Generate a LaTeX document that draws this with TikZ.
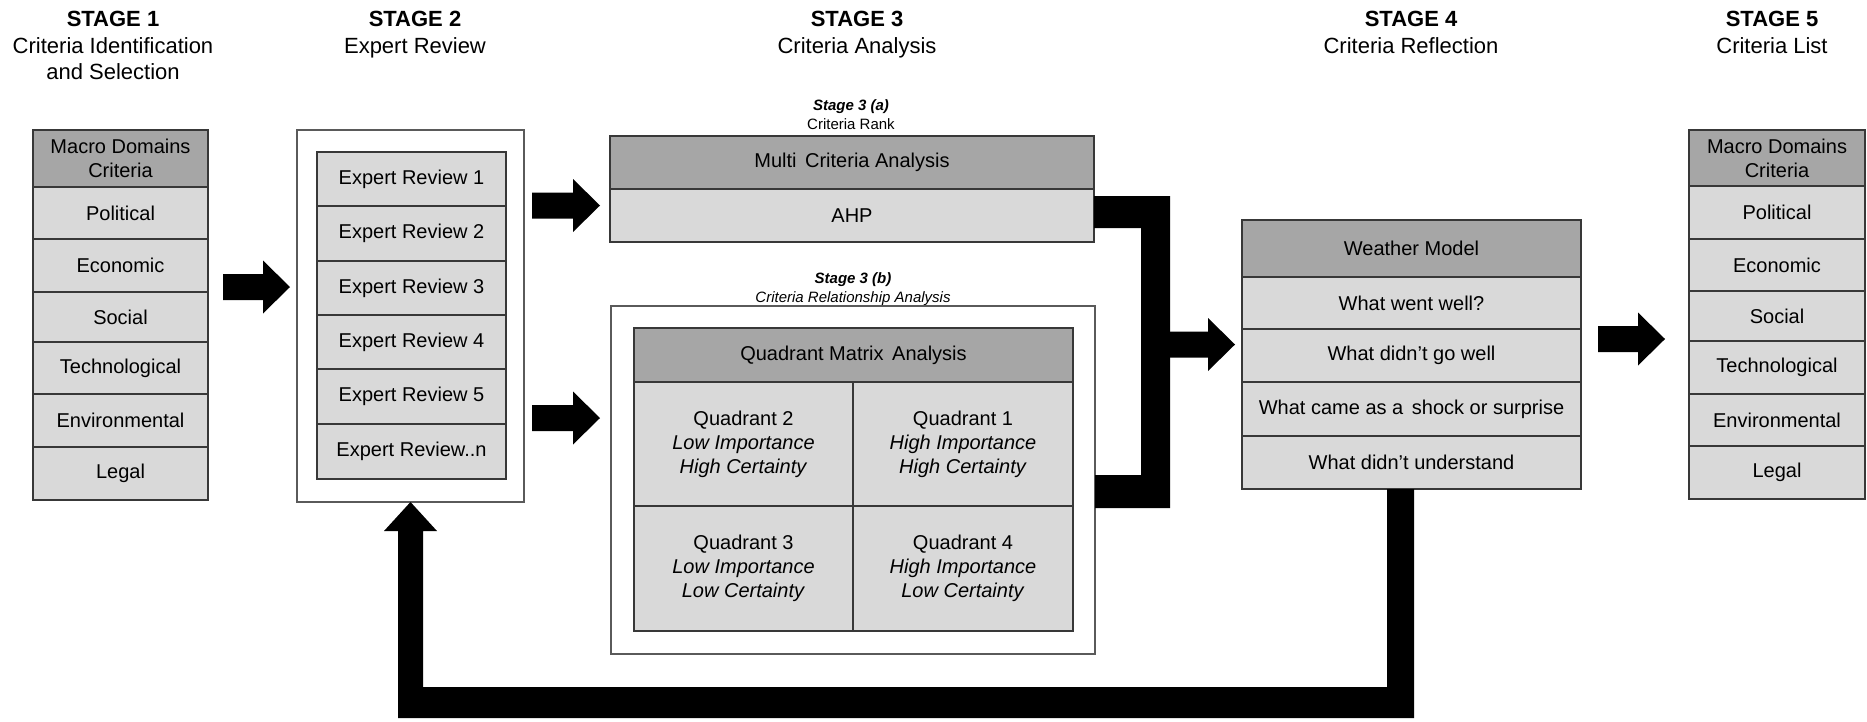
\documentclass[tikz,border=0pt]{standalone}
\usepackage{fontspec}
\setmainfont{Liberation Sans}
\usetikzlibrary{calc}
\definecolor{hdrg}{HTML}{A6A6A6}
\definecolor{rowg}{HTML}{D9D9D9}
\definecolor{bord}{HTML}{383838}
\definecolor{frameg}{HTML}{5A5A5A}
\newcommand{\mkcell}[7]{\node[#6, minimum width={#4pt-#2pt}, minimum height={#5pt-#3pt}] (#1) at ({(#2+#4)/2},{(#3+#5)/2}) {#7};}
\newcommand{\harrow}[2]{\fill[black] let \p1=(#1), \p2=(#2) in (\x1,\y1+13pt) -- (\x2-27pt,\y1+13pt) -- (\x2-27pt,\y1+26.5pt) -- (\x2,\y1) -- (\x2-27pt,\y1-26.5pt) -- (\x2-27pt,\y1-13pt) -- (\x1,\y1-13pt) -- cycle;}
\newcommand{\wsp}{\hspace{0.15em} }
\begin{document}
\begin{tikzpicture}[x=1pt,y=-1pt,
  hdr/.style={draw=bord, fill=hdrg, line width=1.3pt, inner sep=0pt, outer sep=0pt, align=center, font=\fontsize{20}{24}\selectfont},
  row/.style={hdr, fill=rowg},
  frame/.style={draw=frameg, fill=white, line width=1.3pt, inner sep=0pt, outer sep=0pt},
  ttl/.style={anchor=base, inner sep=0pt, font=\fontsize{22}{26}\selectfont},
  sub/.style={anchor=base, inner sep=0pt, font=\fontsize{15}{19}\selectfont}]
\useasboundingbox (0,0) rectangle (1867,721);
\fill[white] (0,0) rectangle (1867,721);

% titles
\node[ttl] (t1a) at (113,26) {\textbf{STAGE 1}};
\node[ttl] (t1b) at (113,53) {Criteria Identification};
\node[ttl] (t1c) at (113,79) {and Selection};
\node[ttl] (t2a) at (415,26) {\textbf{STAGE 2}};
\node[ttl] (t2b) at (415,53) {Expert Review};
\node[ttl] (t3a) at (857,26) {\textbf{STAGE 3}};
\node[ttl] (t3b) at (857,53) {Criteria Analysis};
\node[ttl] (t4a) at (1411,26) {\textbf{STAGE 4}};
\node[ttl] (t4b) at (1411,53) {Criteria Reflection};
\node[ttl] (t5a) at (1772,26) {\textbf{STAGE 5}};
\node[ttl] (t5b) at (1772,53) {Criteria List};

% stage 1
\mkcell{s1h}{33}{130}{208}{187}{hdr}{Macro Domains\\Criteria}
\mkcell{s1a}{33}{187}{208}{239}{row}{Political}
\mkcell{s1b}{33}{239}{208}{292}{row}{Economic}
\mkcell{s1c}{33}{292}{208}{342}{row}{Social}
\mkcell{s1d}{33}{342}{208}{394}{row}{Technological}
\mkcell{s1e}{33}{394}{208}{447}{row}{Environmental}
\mkcell{s1f}{33}{447}{208}{500}{row}{Legal}

% stage 2
\mkcell{s2f}{297}{130}{524}{502}{frame}{}
\mkcell{s2a}{317}{152}{506}{206}{row}{Expert Review 1}
\mkcell{s2b}{317}{206}{506}{261}{row}{Expert Review 2}
\mkcell{s2c}{317}{261}{506}{315}{row}{Expert Review 3}
\mkcell{s2d}{317}{315}{506}{369}{row}{Expert Review 4}
\mkcell{s2e}{317}{369}{506}{424}{row}{Expert Review 5}
\mkcell{s2g}{317}{424}{506}{479}{row}{Expert Review..n}

% stage 3a
\node[sub] (l3a) at (851,110) {\textbf{\textit{Stage 3 (a)}}};
\node[sub] (l3b) at (851,129) {Criteria Rank};
\mkcell{s3h}{610}{136}{1094}{189}{hdr}{Multi\wsp Criteria Analysis}
\mkcell{ahp}{610}{189}{1094}{242}{row}{AHP}

% stage 3b
\node[sub] (l3c) at (853,283) {\textbf{\textit{Stage 3 (b)}}};
\node[sub] (l3d) at (853,302) {\textit{Criteria Relationship Analysis}};
\mkcell{s3f}{611}{306}{1095}{654}{frame}{}
\mkcell{qh}{634}{328}{1073}{382}{hdr}{Quadrant Matrix\wsp Analysis}
\mkcell{q2}{634}{382}{853}{506}{row}{Quadrant 2\\\textit{Low Importance}\\\textit{High Certainty}}
\mkcell{q1}{853}{382}{1073}{506}{row}{Quadrant 1\\\textit{High Importance}\\\textit{High Certainty}}
\mkcell{q3}{634}{506}{853}{631}{row}{Quadrant 3\\\textit{Low Importance}\\\textit{Low Certainty}}
\mkcell{q4}{853}{506}{1073}{631}{row}{Quadrant 4\\\textit{High Importance}\\\textit{Low Certainty}}

% stage 4
\mkcell{s4h}{1242}{220}{1581}{277}{hdr}{Weather Model}
\mkcell{s4a}{1242}{277}{1581}{329}{row}{What went well?}
\mkcell{s4b}{1242}{329}{1581}{382}{row}{What didn’t go well}
\mkcell{s4c}{1242}{382}{1581}{436}{row}{What came as a\wsp shock or surprise}
\mkcell{s4d}{1242}{436}{1581}{489}{row}{What didn’t understand}

% stage 5
\mkcell{s5h}{1689}{130}{1865}{186}{hdr}{Macro Domains\\Criteria}
\mkcell{s5a}{1689}{186}{1865}{239}{row}{Political}
\mkcell{s5b}{1689}{239}{1865}{291}{row}{Economic}
\mkcell{s5c}{1689}{291}{1865}{341}{row}{Social}
\mkcell{s5d}{1689}{341}{1865}{394}{row}{Technological}
\mkcell{s5e}{1689}{394}{1865}{446}{row}{Environmental}
\mkcell{s5f}{1689}{446}{1865}{499}{row}{Legal}

% block arrows
\coordinate (a1s) at (223,287);  \coordinate (a1e) at (290,287);
\coordinate (a2s) at (532,205.5); \coordinate (a2e) at (600,205.5);
\coordinate (a3s) at (532,418);  \coordinate (a3e) at (600,418);
\coordinate (a4s) at (1168,344.5); \coordinate (a4e) at (1235,344.5);
\coordinate (a5s) at (1598,339); \coordinate (a5e) at (1665,339);
\harrow{a1s}{a1e}
\harrow{a2s}{a2e}
\harrow{a3s}{a3e}
\harrow{a4s}{a4e}
\harrow{a5s}{a5e}

% merging bracket from AHP and quadrant frame
\fill[black] (ahp.east |- 0,196) -- (1170,196) -- (1170,508) -- (s3f.east |- 0,508) -- (s3f.east |- 0,475)
  -- (1141,475) -- (1141,228) -- (ahp.east |- 0,228) -- cycle;

% feedback loop from stage 4 to stage 2
\fill[black] (1387,489) -- (1414,489) -- (1414,718) -- (398,718) -- (398,531) -- (384,531)
  -- (s2f.south) -- (437,531) -- (423,531) -- (423,687) -- (1387,687) -- cycle;
\end{tikzpicture}
\end{document}
